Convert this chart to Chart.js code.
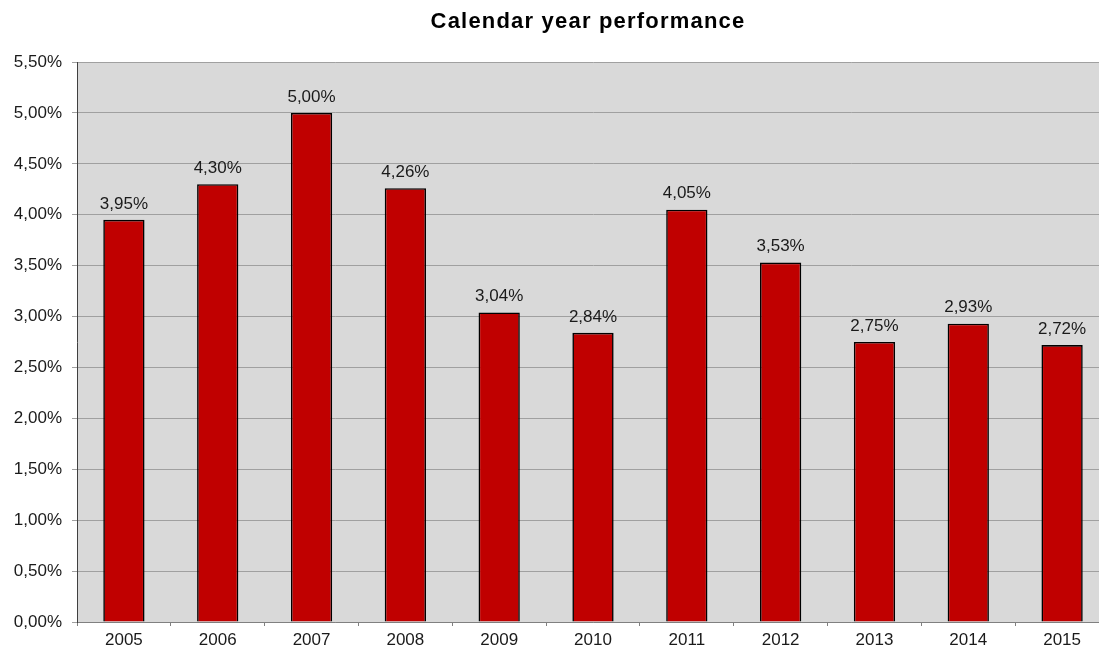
<!DOCTYPE html>
<html>
<head>
<meta charset="utf-8">
<script src="https://cdn.jsdelivr.net/npm/chart.js@4/dist/chart.umd.min.js"></script>
<style>
html,body{margin:0;padding:0;background:#fff;overflow:hidden;}
#wrap{width:1099px;height:651px;position:relative;overflow:hidden;}
canvas{display:block;}
</style>
</head>
<body>
<div id="wrap"><canvas id="c" width="1109" height="651"></canvas></div>
<script>
const categories = ['2005','2006','2007','2008','2009','2010','2011','2012','2013','2014','2015'];
const performance = [3.95, 4.30, 5.00, 4.26, 3.04, 2.84, 4.05, 3.53, 2.75, 2.93, 2.72];
const chartTitle = 'Calendar year performance';

const fmt = v => v.toFixed(2).replace('.', ',') + '%';
const FONT = 'Liberation Sans, Arial, sans-serif';
const VISIBLE_WIDTH = 1099;

const plotBg = {
  id: 'plotBg',
  beforeDraw(chart) {
    const {ctx, chartArea: a} = chart;
    ctx.save();
    ctx.fillStyle = '#d9d9d9';
    ctx.fillRect(a.left, a.top, a.right - a.left, a.bottom - a.top);
    ctx.restore();
  }
};

const titleDraw = {
  id: 'titleDraw',
  afterDraw(chart) {
    const {ctx, chartArea: a} = chart;
    ctx.save();
    ctx.font = 'bold 22px ' + FONT;
    if ('letterSpacing' in ctx) ctx.letterSpacing = '1.2px';
    ctx.fillStyle = '#000';
    ctx.textAlign = 'center';
    ctx.textBaseline = 'middle';
    ctx.fillText(chartTitle, (a.left + VISIBLE_WIDTH) / 2, 22);
    ctx.restore();
  }
};

const valueLabels = {
  id: 'valueLabels',
  afterDatasetsDraw(chart) {
    const {ctx} = chart;
    const meta = chart.getDatasetMeta(0);
    ctx.save();
    ctx.font = '17px ' + FONT;
    ctx.fillStyle = '#1a1a1a';
    ctx.textAlign = 'center';
    ctx.textBaseline = 'middle';
    meta.data.forEach((bar, i) => {
      ctx.fillText(fmt(performance[i]), bar.x, bar.y - 16);
    });
    ctx.restore();
  }
};

new Chart(document.getElementById('c'), {
  type: 'bar',
  data: {
    labels: categories,
    datasets: [{
      data: performance,
      backgroundColor: '#c00000',
      borderColor: '#000',
      borderWidth: 1.6,
      categoryPercentage: 1,
      barPercentage: 0.44
    }]
  },
  options: {
    responsive: false,
    animation: false,
    layout: {padding: {left: 0, right: 0, top: 62, bottom: 0}},
    plugins: {
      legend: {display: false},
      tooltip: {enabled: false},
      title: {display: false}
    },
    scales: {
      x: {
        afterFit(s) { s.height = 29; },
        grid: {
          offset: true,
          drawOnChartArea: false,
          drawTicks: true,
          tickLength: 4,
          color: '#808080'
        },
        border: {color: '#808080', width: 1},
        ticks: {
          color: '#1a1a1a',
          font: {family: FONT, size: 17},
          padding: 4,
          maxRotation: 0
        }
      },
      y: {
        min: 0,
        max: 5.5,
        afterFit(s) { s.width = 77; },
        grid: {
          color: '#a0a0a0',
          tickLength: 5,
          drawTicks: true
        },
        border: {color: '#404040', width: 1},
        ticks: {
          stepSize: 0.5,
          color: '#1a1a1a',
          font: {family: FONT, size: 17},
          padding: 10,
          callback: v => fmt(v)
        }
      }
    }
  },
  plugins: [plotBg, valueLabels, titleDraw]
});
</script>
</body>
</html>
